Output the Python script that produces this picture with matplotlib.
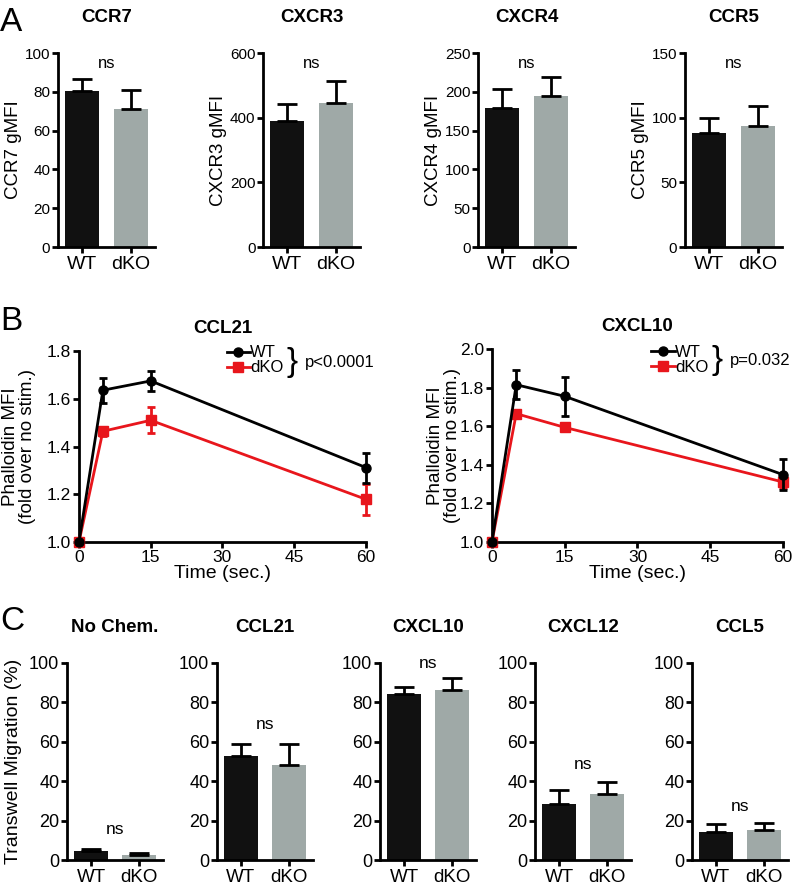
import numpy as np
import matplotlib
matplotlib.use("Agg")
import matplotlib.pyplot as plt
from matplotlib.lines import Line2D

plt.rcParams['font.family'] = ['Liberation Sans', 'DejaVu Sans']
plt.rcParams['font.size'] = 10

# Данные панели A (gMFI рецепторов)
groups = ["WT", "dKO"]
receptors = ["CCR7", "CXCR3", "CXCR4", "CCR5"]
receptor_mean = [[80.4, 71.3], [389, 446], [179.5, 195], [87.9, 93.8]]
receptor_sem = [[6, 9.8], [53, 66], [24.5, 24.5], [11.6, 15.2]]
receptor_ymax = [100, 600, 250, 150]
receptor_ystep = [20, 200, 50, 50]

# Данные панели B (фаллоидин)
time_points = [0, 5, 15, 60]
ccl21_wt = [1.0, 1.636, 1.675, 1.312]
ccl21_wt_err = [0.0, 0.053, 0.042, 0.063]
ccl21_dko = [1.0, 1.464, 1.51, 1.179]
ccl21_dko_err = [0.0, 0.02, 0.055, 0.065]
cxcl10_wt = [1.0, 1.815, 1.755, 1.349]
cxcl10_wt_err = [0.0, 0.074, 0.1, 0.08]
cxcl10_dko = [1.0, 1.665, 1.594, 1.311]
cxcl10_dko_err = [0.0, 0.012, 0.012, 0.032]

# Данные панели C (миграция)
chemokines = ["No Chem.", "CCL21", "CXCL10", "CXCL12", "CCL5"]
migration_mean = [[4.6, 2.5], [53, 48.3], [84.1, 86.4], [28.2, 33.4], [14.4, 15.2]]
migration_sem = [[0.8, 1.2], [5.8, 10.5], [3.7, 6.1], [7.3, 6.3], [3.8, 3.7]]
ns_height = [15.3, 69, 99.7, 48.6, 27.4]

bar_colors = ["#111111", "#9fa9a7"]
red = "#e8161c"
lw = 2.0

fig = plt.figure(figsize=(7.93, 8.94), dpi=100)


def style_axes(ax, labelsize):
	for s in ["top", "right"]:
		ax.spines[s].set_visible(False)
	for s in ["left", "bottom"]:
		ax.spines[s].set_linewidth(lw)
	ax.tick_params(width=lw, length=4.5, labelsize=labelsize, pad=1)


def bar_panel(ax, means, sems, title, ymax, ystep, ticksize, groupsize, nssize, ns_y=None):
	x = np.arange(len(groups))
	ax.bar(x, means, width=0.7, color=bar_colors)
	ax.errorbar(x, means, yerr=[np.zeros(len(means)), sems], fmt='none',
		ecolor='black', elinewidth=lw, capsize=7.5, capthick=lw)
	ax.set_xlim(-0.5, 1.5)
	ax.set_ylim(0, ymax)
	ax.set_yticks(np.arange(0, ymax + 1, ystep))
	ax.set_xticks(x)
	ax.set_xticklabels(groups)
	style_axes(ax, ticksize)
	ax.tick_params(axis='x', labelsize=groupsize, pad=2)
	ax.set_title(title, fontsize=13.5, fontweight='bold', pad=22)
	if ns_y is None:
		ax.text(0.5, 0.945, "ns", transform=ax.transAxes, ha='center', va='center', fontsize=nssize)
	else:
		ax.text(0.5, ns_y, "ns", ha='center', va='center', fontsize=nssize)


# Панель A
a_lefts = [0.0731, 0.3317, 0.6028, 0.8638]
for i, name in enumerate(receptors):
	ax = fig.add_axes([a_lefts[i], 0.7237, 0.1223, 0.217])
	bar_panel(ax, receptor_mean[i], receptor_sem[i], name,
		receptor_ymax[i], receptor_ystep[i], 11, 14, 12)
	ax.set_ylabel(name + " gMFI", fontsize=13.5)
	ax.yaxis.set_label_coords(-0.37, 0.5)


# Панель B
def line_panel(ax, wt, wt_err, dko, dko_err, title, ymax, pval, leg_x, leg_y, brace_x, label_x):
	ax.errorbar(time_points, wt, yerr=wt_err, color='black', marker='o', markersize=6.5,
		lw=lw, elinewidth=lw, capsize=3, capthick=lw, clip_on=False, zorder=4)
	ax.errorbar(time_points, dko, yerr=dko_err, color=red, marker='s', markersize=6.5,
		lw=lw, elinewidth=lw, capsize=3, capthick=lw, clip_on=False, zorder=3)
	ax.set_xlim(0, 60)
	ax.set_ylim(1.0, ymax)
	ax.set_xticks([0, 15, 30, 45, 60])
	yt = np.arange(1.0, ymax + 0.01, 0.2)
	ax.set_yticks(yt)
	ax.set_yticklabels(["%.1f" % v for v in yt])
	style_axes(ax, 12.5)
	ax.set_title(title, fontsize=13.5, fontweight='bold', pad=13)
	ax.set_xlabel("Time (sec.)", fontsize=14, labelpad=0)
	ax.set_ylabel("Phalloidin MFI\n(fold over no stim.)", fontsize=13.5, linespacing=1.0)
	ax.yaxis.set_label_coords(label_x, 0.5)
	handles = [Line2D([], [], color='black', marker='o', markersize=6.5, lw=lw),
		Line2D([], [], color=red, marker='s', markersize=6.5, lw=lw)]
	ax.legend(handles, groups, loc='upper left', bbox_to_anchor=(leg_x, leg_y), frameon=False,
		fontsize=12, handlelength=1.4, handletextpad=0.0, labelspacing=0.0, borderpad=0,
		borderaxespad=0)
	ax.text(brace_x, 0.94, "}", transform=ax.transAxes, ha='center', va='center', fontsize=24)
	ax.text(brace_x + 0.045, 0.94, pval, transform=ax.transAxes, ha='left', va='center', fontsize=12)


ax = fig.add_axes([0.0996, 0.3937, 0.3619, 0.2136])
line_panel(ax, ccl21_wt, ccl21_wt_err, ccl21_dko, ccl21_dko_err, "CCL21", 1.8, "p<0.0001",
	0.515, 1.03, 0.742, -0.15)
ax = fig.add_axes([0.6204, 0.3937, 0.367, 0.2159])
line_panel(ax, cxcl10_wt, cxcl10_wt_err, cxcl10_dko, cxcl10_dko_err, "CXCL10", 2.0, "p=0.032",
	0.548, 1.02, 0.773, -0.105)

# Панель C
c_lefts = [0.0845, 0.2736, 0.4792, 0.6747, 0.8726]
for i, name in enumerate(chemokines):
	ax = fig.add_axes([c_lefts[i], 0.038, 0.121, 0.2204])
	bar_panel(ax, migration_mean[i], migration_sem[i], name, 100, 20, 13, 13.5, 12.5, ns_y=ns_height[i])
	if i == 0:
		ax.set_ylabel("Transwell Migration (%)", fontsize=14)
		ax.yaxis.set_label_coords(-0.47, 0.5)

# Буквы панелей
fig.text(0.0, 0.992, "A", fontsize=24, va='top', ha='left')
fig.text(0.0, 0.658, "B", fontsize=24, va='top', ha='left')
fig.text(0.0, 0.322, "C", fontsize=24, va='top', ha='left')

fig.savefig("out.png", dpi=100)
